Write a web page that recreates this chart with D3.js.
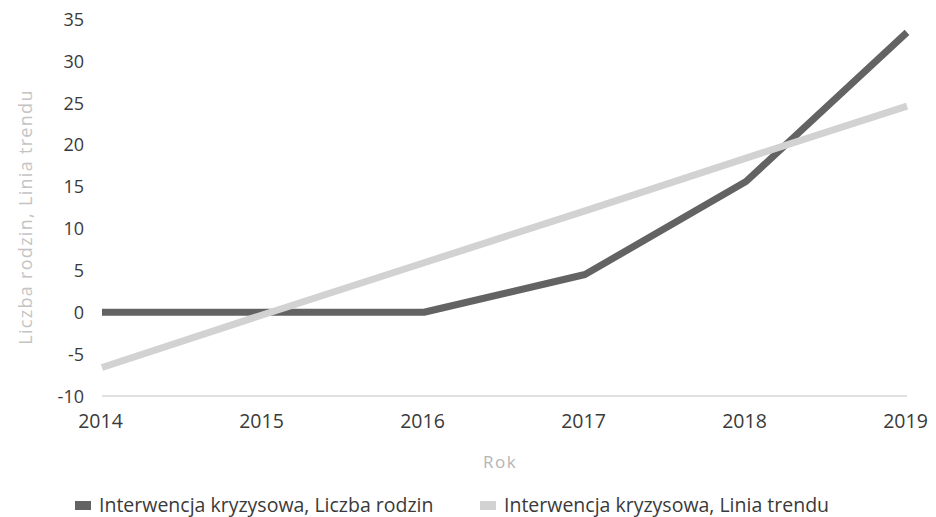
<!DOCTYPE html>
<html>
<head>
<meta charset="UTF-8">
<style>
    body { margin: 0; background: #fff; }
    svg, svg text { font-family: "Open Sans", sans-serif; }
    .axis text { fill: #3a3a3a; font-size: 18px; font-family: "Open Sans", sans-serif; }
    .axis.x text { font-size: 19.5px; }
    .axis path, .axis line { display: none; }
</style>
</head>
<body>
<script src="https://cdn.jsdelivr.net/npm/d3@7"></script>
<script>
var years = [2014, 2015, 2016, 2017, 2018, 2019];
var families = [0, 0, 0, 4.5, 15.6, 33.4];
var trend = [-6.6, -0.3, 5.9, 12.1, 18.4, 24.6];
var yTicks = [-10, -5, 0, 5, 10, 15, 20, 25, 30, 35];
var seriesNames = ["Interwencja kryzysowa, Liczba rodzin", "Interwencja kryzysowa, Linia trendu"];
var colors = ["#636363", "#d2d2d2"];

var width = 936, height = 517;
var margin = {top: 19, right: 29, bottom: 121, left: 102};

var svg = d3.select("body").append("svg")
    .attr("width", width).attr("height", height);

var x = d3.scalePoint().domain(years)
    .range([margin.left, width - margin.right]);
var y = d3.scaleLinear().domain([-10, 35])
    .range([height - margin.bottom, margin.top]);

// baseline at -10
svg.append("line")
    .attr("x1", x(2014)).attr("x2", x(2019))
    .attr("y1", y(-10)).attr("y2", y(-10))
    .attr("stroke", "#d6d6d6").attr("stroke-width", 1.5);

svg.append("g").attr("class", "axis y")
    .attr("transform", "translate(" + (margin.left - 18) + ",0)")
    .call(d3.axisLeft(y).tickValues(yTicks).tickSize(0).tickPadding(0).tickFormat(String))
    .selectAll("text").attr("dy", "0.35em");

svg.append("g").attr("class", "axis x")
    .attr("transform", "translate(-2," + (y(-10) + 18) + ")")
    .call(d3.axisBottom(x).tickSize(0).tickPadding(0).tickFormat(String))
    .selectAll("text").attr("dy", "0.71em").attr("y", 0);

// axis titles
svg.append("text")
    .attr("x", 500).attr("y", 462)
    .attr("dy", "0.35em")
    .attr("text-anchor", "middle")
    .attr("fill", "#b5b5b5").style("font-size", "17px")
    .style("letter-spacing", "1.5px")
    .text("Rok");

svg.append("text")
    .attr("transform", "translate(26,217) rotate(-90)")
    .attr("text-anchor", "middle")
    .attr("dy", "0.35em")
    .attr("fill", "#c4c4c4").style("font-size", "18px")
    .style("letter-spacing", "1.3px")
    .text("Liczba rodzin, Linia trendu");

var line = d3.line()
    .x(function(d, i) { return x(years[i]); })
    .y(function(d) { return y(d); });

[families, trend].forEach(function(s, i) {
    svg.append("path")
        .datum(s)
        .attr("d", line)
        .attr("fill", "none")
        .attr("stroke", colors[i])
        .attr("stroke-width", 7)
        .attr("stroke-linejoin", "round");
});

// legend
var legendX = [75, 480];
seriesNames.forEach(function(name, i) {
    var g = svg.append("g").attr("transform", "translate(" + legendX[i] + ",505)");
    g.append("rect")
        .attr("x", 0).attr("y", -4)
        .attr("width", 16).attr("height", 9)
        .attr("fill", colors[i]);
    g.append("text")
        .attr("x", 24).attr("dy", "0.35em")
        .attr("fill", "#3a3a3a").style("font-size", "19.5px")
        .text(name);
});
</script>
</body>
</html>
